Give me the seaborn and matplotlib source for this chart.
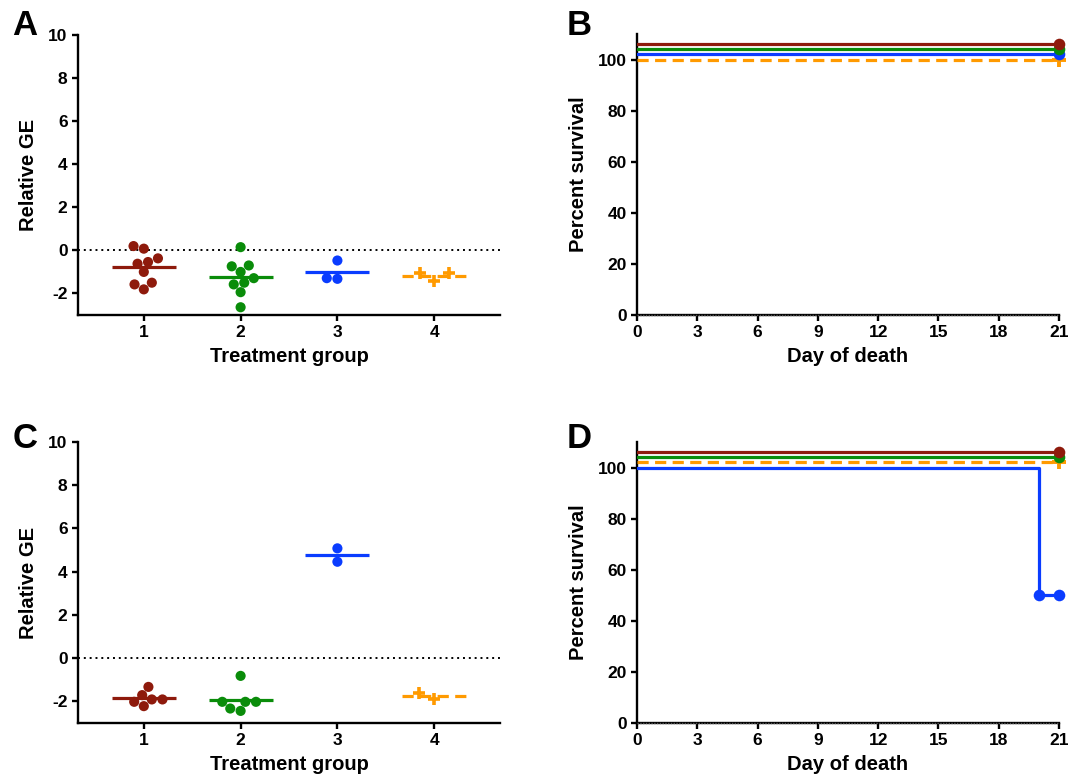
import numpy as np
import pandas as pd
import matplotlib
matplotlib.use("Agg")
import matplotlib.pyplot as plt
import seaborn as sns

# ---------------- data ----------------
groups = ["1", "2", "3", "4"]
colors = ["#8E1A0C", "#0A8C0A", "#0A3CFF", "#FF9A00"]

# Panel A: relative GE per treatment group
a_g1 = [0.20, 0.08, -0.62, -0.54, -0.37, -1.00, -1.50, -1.58, -1.81]
a_g2 = [0.15, -1.00, -0.70, -0.74, -1.29, -1.50, -1.58, -1.94, -2.64]
a_g3 = [-0.47, -1.29, -1.32]
a_g4 = [-1.05, -1.05, -1.43]

# Panel C: relative GE per treatment group
c_g1 = [-1.71, -1.91, -1.33, -1.91, -2.02, -2.22]
c_g2 = [-0.82, -2.02, -2.02, -2.02, -2.33, -2.44]
c_g3 = [5.08, 4.46]
c_g4 = [-1.60, -1.90]

# Panel B: survival curves (plotted values, Prism-offset)
b_days = [0, 21]
b_g1 = [106, 106]
b_g2 = [104, 104]
b_g3 = [102, 102]
b_g4 = [100, 100]

# Panel D: survival curves
d_days = [0, 21]
d_g1 = [106, 106]
d_g2 = [104, 104]
d_g3_days = [0, 20, 21]
d_g3 = [100, 50, 50]
d_g4 = [102, 102]

x_ticks_surv = [0, 3, 6, 9, 12, 15, 18, 21]
y_ticks_surv = [0, 20, 40, 60, 80, 100]
y_ticks_ge = [-2, 0, 2, 4, 6, 8, 10]

# ---------------- style ----------------
sns.set_theme(style="ticks")
plt.rcParams["font.family"] = ["Liberation Sans", "DejaVu Sans"]
plt.rcParams["font.weight"] = "bold"
plt.rcParams["axes.labelweight"] = "bold"
plt.rcParams["axes.unicode_minus"] = False
plt.rcParams["axes.linewidth"] = 1.7
plt.rcParams["xtick.major.width"] = 1.7
plt.rcParams["ytick.major.width"] = 1.7
plt.rcParams["xtick.major.size"] = 4
plt.rcParams["ytick.major.size"] = 4
plt.rcParams["xtick.labelsize"] = 12.5
plt.rcParams["ytick.labelsize"] = 12.5
plt.rcParams["axes.labelsize"] = 14.5
plt.rcParams["text.color"] = "black"
plt.rcParams["axes.labelcolor"] = "black"
plt.rcParams["xtick.color"] = "black"
plt.rcParams["ytick.color"] = "black"
plt.rcParams["axes.edgecolor"] = "black"

fig = plt.figure(figsize=(10.8, 7.84), dpi=100)
W, H = 1080, 784


def add_ax(l, r, t, b):
    return fig.add_axes([l / W, 1 - b / H, (r - l) / W, (b - t) / H])


axA = add_ax(78, 500, 35, 315)
axB = add_ax(637, 1059, 34, 315)
axC = add_ax(78, 500, 442, 723)
axD = add_ax(637, 1059, 442, 723)


def scatter_panel(ax, vals):
    df = pd.DataFrame({
        "group": sum([[g] * len(v) for g, v in zip(groups, vals)], []),
        "value": sum([list(v) for v in vals], []),
    })
    dots = df[df["group"] != "4"]
    plus = df[df["group"] == "4"]
    ax.axhline(0, color="black", lw=1.4, ls=(0, (1, 2)), zorder=1)
    sns.swarmplot(data=dots, x="group", y="value", hue="group", order=groups,
                  hue_order=groups, palette=colors, size=7.3, legend=False,
                  ax=ax, zorder=3, linewidth=0)
    sns.swarmplot(data=plus, x="group", y="value", order=groups, color=colors[3],
                  marker="+", size=9, linewidth=2.6, legend=False, ax=ax, zorder=3)
    means = df.groupby("group")["value"].mean()
    for i, g in enumerate(groups):
        ax.hlines(means[g], i - 0.33, i + 0.33, color=colors[i], lw=2.3,
                  ls=(0, (3.5, 2)) if g == "4" else "-", zorder=2)
    ax.set_xlim(-0.68, 3.68)
    ax.set_ylim(-3, 10)
    ax.set_yticks(y_ticks_ge)
    ax.set_xlabel("Treatment group")
    ax.set_ylabel("Relative GE")
    sns.despine(ax=ax)


def survival_panel(ax, curves):
    rows = []
    for g, (days, pct) in zip(groups, curves):
        for d, p in zip(days, pct):
            rows.append((g, d, p))
    df = pd.DataFrame(rows, columns=["group", "day", "pct"])
    for i, g in enumerate(groups):
        sub = df[df["group"] == g]
        sns.lineplot(data=sub, x="day", y="pct", color=colors[i], lw=2.3,
                     drawstyle="steps-post", estimator=None, sort=False,
                     ls=(0, (3.5, 2)) if g == "4" else "-", ax=ax, zorder=3 + (3 - i) * 0.1)
        marks = sub[sub["day"] > 0]
        if g == "4":
            sns.scatterplot(data=marks, x="day", y="pct", color=colors[i], marker="+",
                            s=90, linewidth=2.8, ax=ax, clip_on=False, zorder=4, legend=False)
        else:
            sns.scatterplot(data=marks, x="day", y="pct", color=colors[i], marker="o",
                            s=70, linewidth=0, ax=ax, clip_on=False,
                            zorder=5 + (3 - i) * 0.1, legend=False)
    ax.axhline(0, color="#555555", lw=1.0, ls=(0, (1, 1)), zorder=6, clip_on=False)
    ax.set_xlim(0, 21)
    ax.set_ylim(0, 110)
    ax.set_xticks(x_ticks_surv)
    ax.set_yticks(y_ticks_surv)
    ax.set_xlabel("Day of death")
    ax.set_ylabel("Percent survival")
    sns.despine(ax=ax)


scatter_panel(axA, [a_g1, a_g2, a_g3, a_g4])
scatter_panel(axC, [c_g1, c_g2, c_g3, c_g4])
survival_panel(axB, [(b_days, b_g1), (b_days, b_g2), (b_days, b_g3), (b_days, b_g4)])
survival_panel(axD, [(d_days, d_g1), (d_days, d_g2), (d_g3_days, d_g3), (d_days, d_g4)])

for ax in (axA, axB, axC, axD):
    for lab in ax.get_xticklabels() + ax.get_yticklabels():
        lab.set_fontweight("bold")
    ax.xaxis.labelpad = 5
    ax.yaxis.labelpad = 7

for letter, x, y in [("A", 12, 9), ("B", 567, 9), ("C", 13, 422), ("D", 567, 422)]:
    fig.text(x / W, 1 - y / H, letter, fontsize=25, fontweight="bold", va="top", ha="left")

fig.savefig("out.png", dpi=100)
